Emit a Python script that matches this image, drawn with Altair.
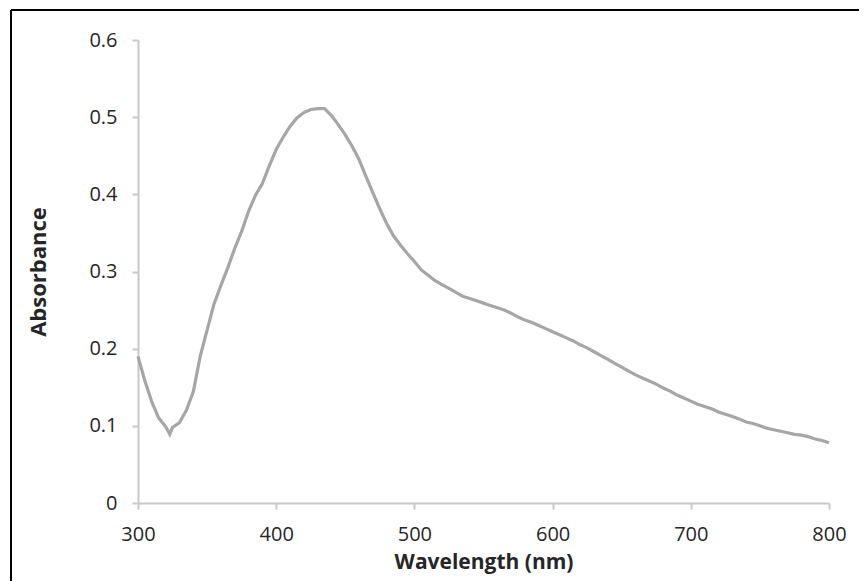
import altair as alt
import pandas as pd

wavelength = [300, 305, 310, 315, 320, 323, 325, 330, 335, 340, 345, 350, 355, 360, 365,
              370, 375, 380, 385, 390, 395, 400, 405, 410, 415, 420, 425, 430, 435, 440,
              445, 450, 455, 460, 465, 470, 475, 480, 485, 490, 495, 500, 505, 510, 515,
              520, 525, 530, 535, 540, 545, 550, 555, 560, 565, 570, 575, 580, 585, 590,
              595, 600, 605, 610, 615, 620, 625, 630, 635, 640, 645, 650, 655, 660, 665,
              670, 675, 680, 685, 690, 695, 700, 705, 710, 715, 720, 725, 730, 735, 740,
              745, 750, 755, 760, 765, 770, 775, 780, 785, 790, 795, 800]
absorbance = [0.190, 0.158, 0.131, 0.110, 0.099, 0.089, 0.098, 0.104, 0.120, 0.144,
              0.190, 0.224, 0.258, 0.282, 0.305, 0.330, 0.352, 0.378, 0.399, 0.414,
              0.437, 0.458, 0.474, 0.488, 0.499, 0.506, 0.510, 0.511, 0.511, 0.502,
              0.490, 0.477, 0.462, 0.445, 0.423, 0.402, 0.381, 0.362, 0.346, 0.334,
              0.323, 0.313, 0.302, 0.295, 0.288, 0.283, 0.278, 0.273, 0.268, 0.265,
              0.262, 0.259, 0.256, 0.253, 0.250, 0.246, 0.241, 0.237, 0.234, 0.230,
              0.226, 0.222, 0.218, 0.214, 0.210, 0.205, 0.201, 0.196, 0.191, 0.186,
              0.181, 0.176, 0.171, 0.166, 0.162, 0.158, 0.154, 0.149, 0.145, 0.140,
              0.136, 0.132, 0.128, 0.125, 0.122, 0.118, 0.115, 0.112, 0.109, 0.105,
              0.103, 0.100, 0.097, 0.095, 0.093, 0.091, 0.089, 0.088, 0.086, 0.083,
              0.081, 0.078]
x_ticks = [300, 400, 500, 600, 700, 800]
y_ticks = [0, 0.1, 0.2, 0.3, 0.4, 0.5, 0.6]

df = pd.DataFrame({"wavelength": wavelength, "absorbance": absorbance})

FONT = "Open Sans"
W, H = 691, 463

line = alt.Chart(df).mark_line(color="#a6a6a6", strokeWidth=3.2, clip=False).encode(
    x=alt.X("wavelength:Q",
            scale=alt.Scale(domain=[300, 800], nice=False, zero=False),
            axis=alt.Axis(values=x_ticks, title="Wavelength (nm)", grid=False,
                          domainColor="#c8c8c8", domainWidth=2, tickColor="#c8c8c8",
                          tickWidth=2, tickSize=6, labelFlush=False, labelOverlap=False,
                          labelFont=FONT, labelFontSize=20, labelColor="#262626",
                          labelPadding=15, titleFont=FONT, titleFontSize=21,
                          titleFontWeight="bold", titleColor="#262626", titlePadding=7)),
    y=alt.Y("absorbance:Q",
            scale=alt.Scale(domain=[0, 0.6], nice=False),
            axis=alt.Axis(values=y_ticks, title="Absorbance", grid=False,
                          domainColor="#c8c8c8", domainWidth=2, tickColor="#c8c8c8",
                          tickWidth=2, tickSize=6, labelFlush=False, labelOverlap=False,
                          labelFont=FONT, labelFontSize=20, labelColor="#262626",
                          labelPadding=15, titleFont=FONT, titleFontSize=22,
                          titleFontWeight="bold", titleColor="#262626", titlePadding=38,
                          labelExpr="datum.value == 0 ? '0' : format(datum.value, '.1f')")),
)

border_left = alt.Chart(df).mark_rule(color="black", strokeWidth=2, clip=False).encode(
    x=alt.value(-127), y=alt.value(-30), y2=alt.value(H + 80))
border_top = alt.Chart(df).mark_rule(color="black", strokeWidth=2, clip=False).encode(
    x=alt.value(-127), x2=alt.value(W + 40), y=alt.value(-30))

chart = alt.layer(line, border_left, border_top).properties(
    width=W, height=H,
    autosize=alt.AutoSizeParams(type="none"),
    padding={"left": 130, "top": 32, "right": 30, "bottom": 78},
    background="white",
).configure_view(stroke=None)

chart.save("out.html", embed_options={"renderer": "svg", "actions": False})
